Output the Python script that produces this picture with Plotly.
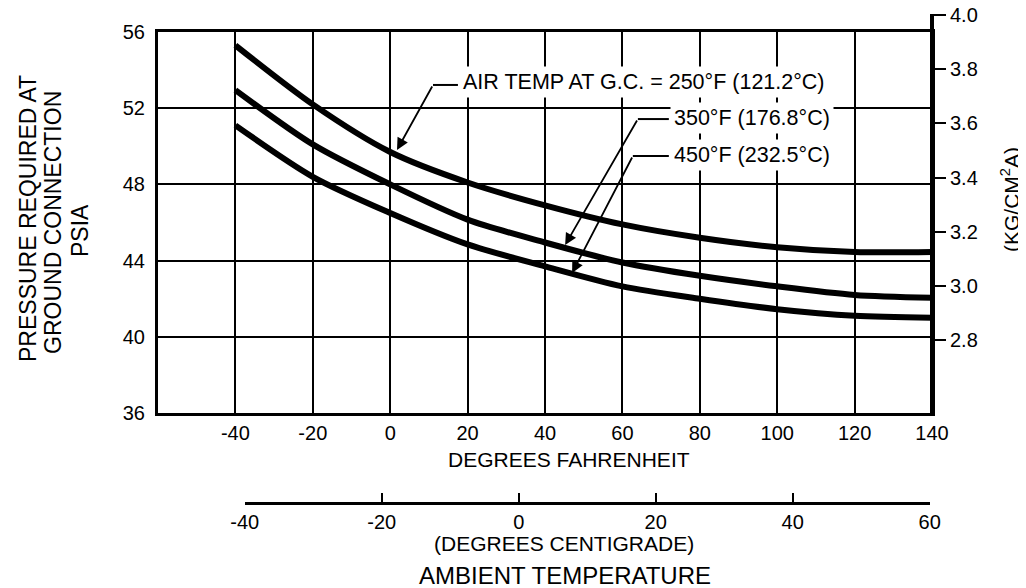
import plotly.graph_objects as go

# Ambient temperature (deg F) and pressure required at ground connection (psia)
temp_f = [-40, -20, 0, 20, 40, 60, 80, 100, 120, 140]
psia_250 = [55.3, 52.2, 49.7, 48.1, 46.9, 45.9, 45.2, 44.7, 44.45, 44.45]
psia_350 = [52.95, 50.1, 48.0, 46.15, 44.95, 43.9, 43.2, 42.65, 42.2, 42.05]
psia_450 = [51.1, 48.4, 46.5, 44.85, 43.7, 42.65, 42.0, 41.45, 41.1, 41.0]

f_ticks = [-40, -20, 0, 20, 40, 60, 80, 100, 120, 140]
c_ticks = [-40, -20, 0, 20, 40, 60]
psi_ticks = [36, 40, 44, 48, 52, 56]
kg_ticks = [2.8, 3.0, 3.2, 3.4, 3.6, 3.8, 4.0]

# plain hyphen for negatives, like the original
f_labels = [str(v) for v in f_ticks]
c_labels = [str(v) for v in c_ticks]
kg_labels = ['%.1f' % v for v in kg_ticks]

PSI_TO_KG = 0.070307
FONT = "Liberation Sans, Arial, sans-serif"

# plot area (screen px, page body adds 8px): bottom 503, top 12
PB, PT = 503, 12
H = PB - PT


def py(v):
    # screen pixel row -> paper fraction
    return (PB - v) / H


y_bot, y_top = py(413), py(32)
kg_max = 4.003
kg_top = y_bot + (kg_max - 36 * PSI_TO_KG) / (20 * PSI_TO_KG) * (y_top - y_bot)

fig = go.Figure()
for ys in [psia_250, psia_350, psia_450]:
    fig.add_trace(go.Scatter(x=temp_f, y=ys, mode='lines',
                             line=dict(color='black', width=6, shape='spline', smoothing=0.8),
                             showlegend=False, hoverinfo='skip'))

# invisible trace so the centigrade / kg axes get drawn
fig.add_trace(go.Scatter(x=[-40, 60], y=[3.0, 3.0], xaxis='x2', yaxis='y2', mode='markers',
                         marker=dict(opacity=0), showlegend=False, hoverinfo='skip'))

axis_font = dict(family=FONT, size=20, color='black')

fig.update_layout(
    width=1026, height=588,
    margin=dict(l=150, r=102, t=PT - 8, b=588 - PB + 8),
    paper_bgcolor='white', plot_bgcolor='rgba(0,0,0,0)',
    font=dict(family=FONT, color='black'),
    xaxis=dict(range=[-60, 140], domain=[0, 1], tickvals=f_ticks, ticktext=f_labels,
               ticks='', showgrid=True, gridcolor='black', gridwidth=2, zeroline=False,
               showline=True, linecolor='black', linewidth=3, mirror=True,
               tickfont=axis_font, anchor='y', automargin=False),
    yaxis=dict(range=[36, 56], domain=[y_bot, y_top], tickvals=psi_ticks, ticks='',
               showgrid=True, gridcolor='black', gridwidth=2, zeroline=False,
               showline=True, linecolor='black', linewidth=3, mirror=True,
               tickfont=axis_font, ticklabelstandoff=6, anchor='x', automargin=False),
    xaxis2=dict(range=[-40, 60], domain=[0.112, 0.997], tickvals=c_ticks, ticktext=c_labels,
                ticks='inside', ticklen=9, tickwidth=2, tickcolor='black',
                showgrid=False, zeroline=False, showline=True, linecolor='black',
                linewidth=3, tickfont=axis_font, anchor='free', position=0,
                automargin=False),
    yaxis2=dict(range=[36 * PSI_TO_KG, kg_max], domain=[y_bot, kg_top],
                tickvals=kg_ticks, ticktext=kg_labels, side='right', ticks='outside',
                ticklen=12, tickwidth=2, tickcolor='black', showgrid=False,
                zeroline=False, showline=True, linecolor='black', linewidth=4,
                tickfont=axis_font, anchor='free', position=1, automargin=False,
                ticklabeloverflow='allow'),
)

# curve labels with white boxes
labels = [
    ("AIR TEMP AT G.C. = 250°F (121.2°C)", 17.8, 53.38),
    ("350°F (176.8°C)", 72.3, 51.49),
    ("450°F (232.5°C)", 72.3, 49.54),
]
for txt, lx, ly in labels:
    fig.add_annotation(x=lx, y=ly, xref='x', yref='y', text=txt, showarrow=False,
                       xanchor='left', yanchor='middle', bgcolor='white', borderpad=3,
                       font=dict(family=FONT, size=21.5, color='black'))

# leader lines: short horizontal stub then arrow down to the curve
leaders = [
    (11.06, 53.22, 17.5, 1.76, 49.81),
    (64.0, 51.43, 72.0, 45.2, 44.82),
    (62.7, 49.49, 72.0, 47.0, 43.35),
]
for ex, ey, sx, tx, ty in leaders:
    fig.add_shape(type='line', xref='x', yref='y', x0=ex, y0=ey, x1=sx, y1=ey,
                  line=dict(color='black', width=2))
    fig.add_annotation(x=tx, y=ty, ax=ex, ay=ey, xref='x', yref='y', axref='x', ayref='y',
                       text='', showarrow=True, arrowhead=2, arrowsize=1.3,
                       arrowwidth=1.8, arrowcolor='black', standoff=0)


# axis titles
def title(txt, x, y, size, angle=0):
    fig.add_annotation(x=x, y=y, xref='paper', yref='paper', text=txt, showarrow=False,
                       textangle=angle, xanchor='center', yanchor='middle',
                       font=dict(family=FONT, size=size, color='black'))


title("DEGREES FAHRENHEIT", 0.531, py(459), 21)
title("(DEGREES CENTIGRADE)", 0.524, py(543), 21)
title("AMBIENT TEMPERATURE", 0.526, py(575), 24)
title("PRESSURE REQUIRED AT", -0.168, py(218), 23, -90)
title("GROUND CONNECTION", -0.1357, py(222), 23, -90)
title("PSIA", -0.1008, py(230), 23, -90)
title("(KG/CM<sup>2</sup>A)", 1.1008, py(200), 21, -90)

fig.write_html("out.html")
